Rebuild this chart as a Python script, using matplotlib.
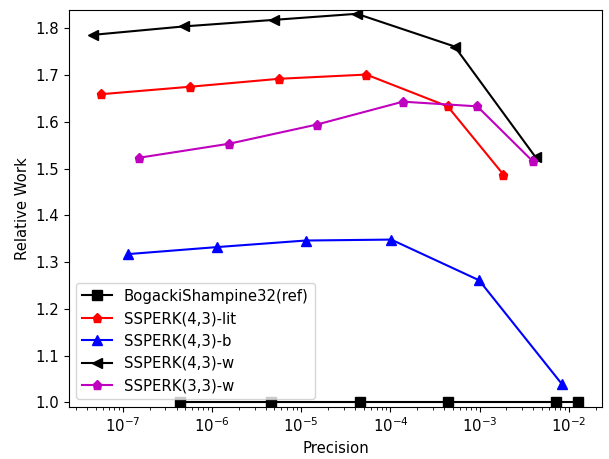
import matplotlib
matplotlib.use("Agg")
import matplotlib.pyplot as plt

# precision / relative work for each method
ref_prec = [4.35e-7, 4.53e-6, 4.59e-5, 4.38e-4, 7.16e-3, 1.26e-2]
ref_work = [1.0, 1.0, 1.0, 1.0, 1.0, 1.0]

lit_prec = [5.7e-8, 5.7e-7, 5.68e-6, 5.36e-5, 4.38e-4, 1.85e-3]
lit_work = [1.659, 1.675, 1.692, 1.701, 1.633, 1.487]

b_prec = [1.15e-7, 1.14e-6, 1.12e-5, 1.02e-4, 9.86e-4, 8.36e-3]
b_work = [1.317, 1.332, 1.346, 1.348, 1.261, 1.039]

w_prec = [4.65e-8, 4.84e-7, 4.95e-6, 4.2e-5, 5.25e-4, 4.25e-3]
w_work = [1.786, 1.804, 1.818, 1.831, 1.761, 1.524]

w33_prec = [1.51e-7, 1.55e-6, 1.49e-5, 1.38e-4, 9.4e-4, 3.92e-3]
w33_work = [1.523, 1.553, 1.594, 1.643, 1.633, 1.516]

plt.rcParams['font.size'] = 10.7
plt.rcParams['lines.markersize'] = 6.5

fig, ax = plt.subplots(figsize=(6.09, 4.59), dpi=100)
fig.subplots_adjust(left=0.1133, right=0.9885, top=0.9776, bottom=0.114)

ax.plot(ref_prec, ref_work, 'ks-', label='BogackiShampine32(ref)')
ax.plot(lit_prec, lit_work, 'rp-', label='SSPERK(4,3)-lit')
ax.plot(b_prec, b_work, 'b^-', label='SSPERK(4,3)-b')
ax.plot(w_prec, w_work, 'k<-', label='SSPERK(4,3)-w')
ax.plot(w33_prec, w33_work, 'mp-', label='SSPERK(3,3)-w')

ax.set_xscale('log')
ax.set_ylim(0.9906, 1.8385)
ax.set_xlabel('Precision')
ax.set_ylabel('Relative Work')
ax.legend(loc='lower left')

fig.savefig('out.png', dpi=100)
